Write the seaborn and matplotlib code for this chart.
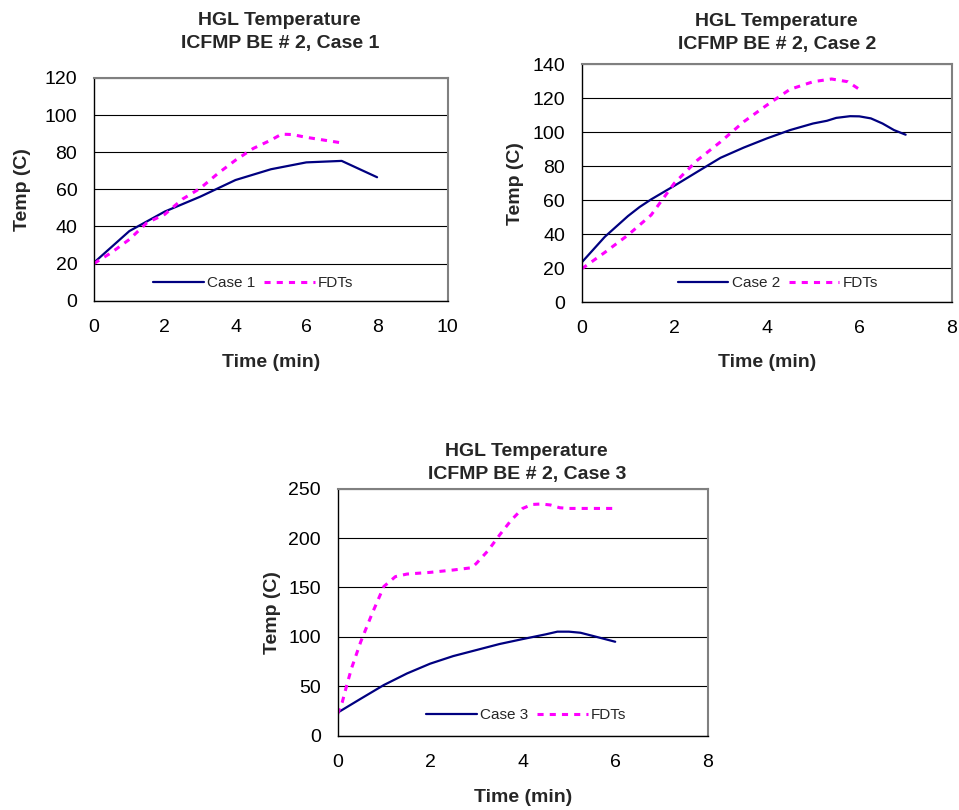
import numpy as np
import pandas as pd
import matplotlib
matplotlib.use("Agg")
import matplotlib.pyplot as plt
import seaborn as sns

sns.set_theme(style="white")
plt.rcParams['font.family'] = ['Liberation Sans', 'DejaVu Sans']

# case 1
t1_case = [0, 1, 2, 3, 4, 5, 6, 7, 8]
T1_case = [20.5, 37.5, 48, 56, 65, 70.8, 74.5, 75.3, 66.5]
t1_fdt = [0, 0.5, 1, 1.5, 2, 2.5, 3, 3.5, 4, 4.5, 5, 5.3, 5.6, 6, 6.5, 7]
T1_fdt = [20, 26, 33, 42, 46.5, 54.7, 60.5, 68.5, 75.7, 82, 86.5, 89.7, 89.5, 88, 86.5, 85]

# case 2
t2_case = [0, 0.5, 1, 1.25, 1.5, 2, 2.5, 3, 3.5, 4, 4.5, 5, 5.3, 5.5, 5.8, 6,
           6.25, 6.5, 6.75, 7]
T2_case = [23.4, 38.5, 50.7, 56, 60.5, 68.5, 76.8, 85, 91, 96.4, 101.3, 105.2,
           106.8, 108.5, 109.5, 109.4, 108.2, 105.2, 101.3, 98.6]
t2_fdt = [0, 0.5, 1, 1.5, 2, 2.5, 3, 3.5, 4, 4.5, 5, 5.4, 5.75, 6, 6.05]
T2_fdt = [19.6, 29.3, 39.5, 51.3, 70, 83.6, 94.4, 106.2, 116, 125.3, 129.8,
          131.4, 129.8, 125.3, 124]

# case 3
t3_case = [0, 0.5, 1, 1.5, 2, 2.5, 3, 3.5, 4, 4.5, 4.75, 5, 5.25, 5.5, 6]
T3_case = [23.3, 37.4, 51.3, 63, 72.9, 80.6, 86.7, 92.8, 97.8, 102.6, 105.3,
           105.3, 104.2, 101.2, 95.1]
t3_fdt = [0, 0.1, 0.2, 0.3, 0.5, 0.75, 1, 1.25, 1.5, 2, 2.5, 2.9, 3, 3.25, 3.5,
          3.75, 4, 4.2, 4.4, 4.6, 4.8, 5, 6]
T3_fdt = [21.9, 33.7, 51.3, 68, 95, 124, 151, 161, 163.6, 165.3, 167.7, 170,
          174.4, 187.2, 203, 218, 230, 234, 234.5, 233.5, 230.7, 230, 230]

charts = [
    dict(n=1, case=(t1_case, T1_case), fdt=(t1_fdt, T1_fdt), xmax=10, ymax=120, ystep=20,
         rect=[0.098, 0.6288, 0.369, 0.275], title_x=0.525, title_pad=21.5,
         ylab_x=-0.178, xlab_y=-0.24, leg=(0.45, 0.08)),
    dict(n=2, case=(t2_case, T2_case), fdt=(t2_fdt, T2_fdt), xmax=8, ymax=140, ystep=20,
         rect=[0.6066, 0.627, 0.386, 0.2935], title_x=0.527, title_pad=11,
         ylab_x=-0.156, xlab_y=-0.219, leg=(0.53, 0.08)),
    dict(n=3, case=(t3_case, T3_case), fdt=(t3_fdt, T3_fdt), xmax=8, ymax=250, ystep=50,
         rect=[0.352, 0.0917, 0.386, 0.305], title_x=0.511, title_pad=7,
         ylab_x=-0.153, xlab_y=-0.216, leg=(0.51, 0.084)),
]

fig = plt.figure(figsize=(9.59, 8.10), dpi=100)

for c in charts:
    ax = fig.add_axes(c['rect'])
    sns.lineplot(x=c['case'][0], y=c['case'][1], ax=ax, color='#000080', lw=1.6,
                 label=f"Case {c['n']}")
    sns.lineplot(x=c['fdt'][0], y=c['fdt'][1], ax=ax, color='#FF00FF', lw=2.2,
                 linestyle=(0, (2.0, 2.0)), label='FDTs')
    ax.set_xlim(0, c['xmax'])
    ax.set_ylim(0, c['ymax'])
    ax.set_xticks(np.arange(0, c['xmax'] + 1, 2))
    ax.set_yticks(np.arange(0, c['ymax'] + 1, c['ystep']))
    ax.yaxis.grid(True, color='black', lw=0.8)
    ax.set_axisbelow(True)
    for s in ['left', 'bottom']:
        ax.spines[s].set_color('black')
        ax.spines[s].set_linewidth(1.0)
    for s in ['top', 'right']:
        ax.spines[s].set_color('#808080')
        ax.spines[s].set_linewidth(1.5)
    ax.tick_params(axis='both', which='major', direction='out', length=5, width=1,
                   color='black', labelsize=14, labelcolor='black')
    ax.tick_params(axis='x', pad=8)
    ax.tick_params(axis='y', pad=7)
    ax.set_xlabel('Time (min)', fontsize=14, fontweight='bold')
    ax.set_ylabel('Temp (C)', fontsize=14, fontweight='bold')
    ax.xaxis.set_label_coords(0.5, c['xlab_y'])
    ax.yaxis.set_label_coords(c['ylab_x'], 0.5)
    ax.set_title(f"HGL Temperature\nICFMP BE # 2, Case {c['n']}", fontsize=14,
                 fontweight='bold', x=c['title_x'], pad=c['title_pad'], linespacing=1.45)
    ax.legend(loc='center', bbox_to_anchor=c['leg'], ncol=2, frameon=False,
              fontsize=11, handlelength=3.3, handletextpad=0.2, columnspacing=0.6)

fig.savefig('out.png', dpi=100)
